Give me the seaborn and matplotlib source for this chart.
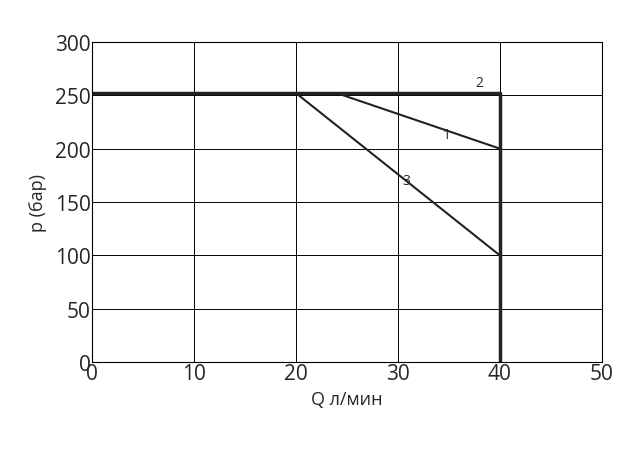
import matplotlib
matplotlib.use("Agg")
import matplotlib.pyplot as plt
import seaborn as sns

sns.set_style("white")
plt.rcParams['font.family'] = ['Open Sans', 'DejaVu Sans']

# curves: flow Q (l/min) vs pressure p (bar)
q2 = [0, 40, 40]
p2 = [252, 252, 0]
q1 = [24, 40]
p1 = [252, 200]
q3 = [20, 40]
p3 = [252, 100]
labels = ["2", "1", "3"]
label_q = [38, 34.8, 30.8]
label_p = [262, 213, 170]

fig = plt.figure(figsize=(6.4, 4.56), dpi=100)
ax = fig.add_axes([0.144, 0.204, 0.796, 0.702])

sns.lineplot(x=q2, y=p2, ax=ax, color="#222222", lw=2.5, sort=False, estimator=None)
sns.lineplot(x=q1, y=p1, ax=ax, color="#222222", lw=1.5, estimator=None)
sns.lineplot(x=q3, y=p3, ax=ax, color="#222222", lw=1.5, estimator=None)
for t, x, y in zip(labels, label_q, label_p):
    ax.text(x, y, t, fontsize=10, ha="center", va="center")

ax.set_xlim(0, 50)
ax.set_ylim(0, 300)
ax.set_xticks(range(0, 51, 10))
ax.set_yticks(range(0, 301, 50))
ax.grid(True, color="black", lw=0.7)
for s in ax.spines.values():
    s.set_color("black")
    s.set_linewidth(0.8)
ax.tick_params(labelsize=15, length=0, pad=1)
ax.set_xlabel("Q л/мин", fontsize=13, labelpad=4)
ax.set_ylabel("p (бар)", fontsize=13, labelpad=6)
fig.savefig("out.png", dpi=100)
